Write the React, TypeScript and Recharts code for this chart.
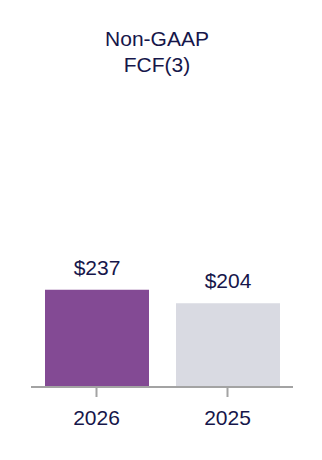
import { BarChart, Bar, XAxis, YAxis, Cell, LabelList } from "recharts"

const years = ["2026", "2025"]
const fcf = [237, 204]
const barColors = ["#834a94", "#d9dae2"]

const data = years.map((year, i) => ({ year, value: fcf[i] }))

const textColor = "#16164a"
const font = "'Liberation Sans', Arial, sans-serif"

export default function App() {
  return (
    <div style={{ position: "absolute", left: 0, top: 0, width: 322, height: 460, background: "#fff", fontFamily: font }}>
      <div
        style={{
          position: "absolute",
          left: 0,
          top: 26,
          width: 314,
          textAlign: "center",
          fontSize: 21,
          lineHeight: "26px",
          color: textColor,
        }}
      >
        Non-GAAP
        <br />
        FCF(3)
      </div>
      <BarChart
        width={322}
        height={460}
        data={data}
        margin={{ top: 182, right: 29, bottom: 0, left: 31 }}
        style={{ position: "absolute", left: 0, top: 0 }}
      >
        <XAxis
          dataKey="year"
          axisLine={{ stroke: "#a3a3a3", strokeWidth: 2 }}
          tickLine={{ stroke: "#a3a3a3", strokeWidth: 2 }}
          tickSize={10}
          tickMargin={13}
          tick={{ fill: textColor, fontSize: 21, fontFamily: font }}
          height={73}
        />
        <YAxis hide domain={[0, 500]} />
        <Bar dataKey="value" barSize={104} isAnimationActive={false}>
          {data.map((d, i) => (
            <Cell key={d.year} fill={barColors[i]} />
          ))}
          <LabelList
            dataKey="value"
            position="top"
            offset={15}
            formatter={(v: number) => `$${v}`}
            style={{ fill: textColor, fontSize: 21, fontFamily: font }}
          />
        </Bar>
      </BarChart>
    </div>
  )
}
